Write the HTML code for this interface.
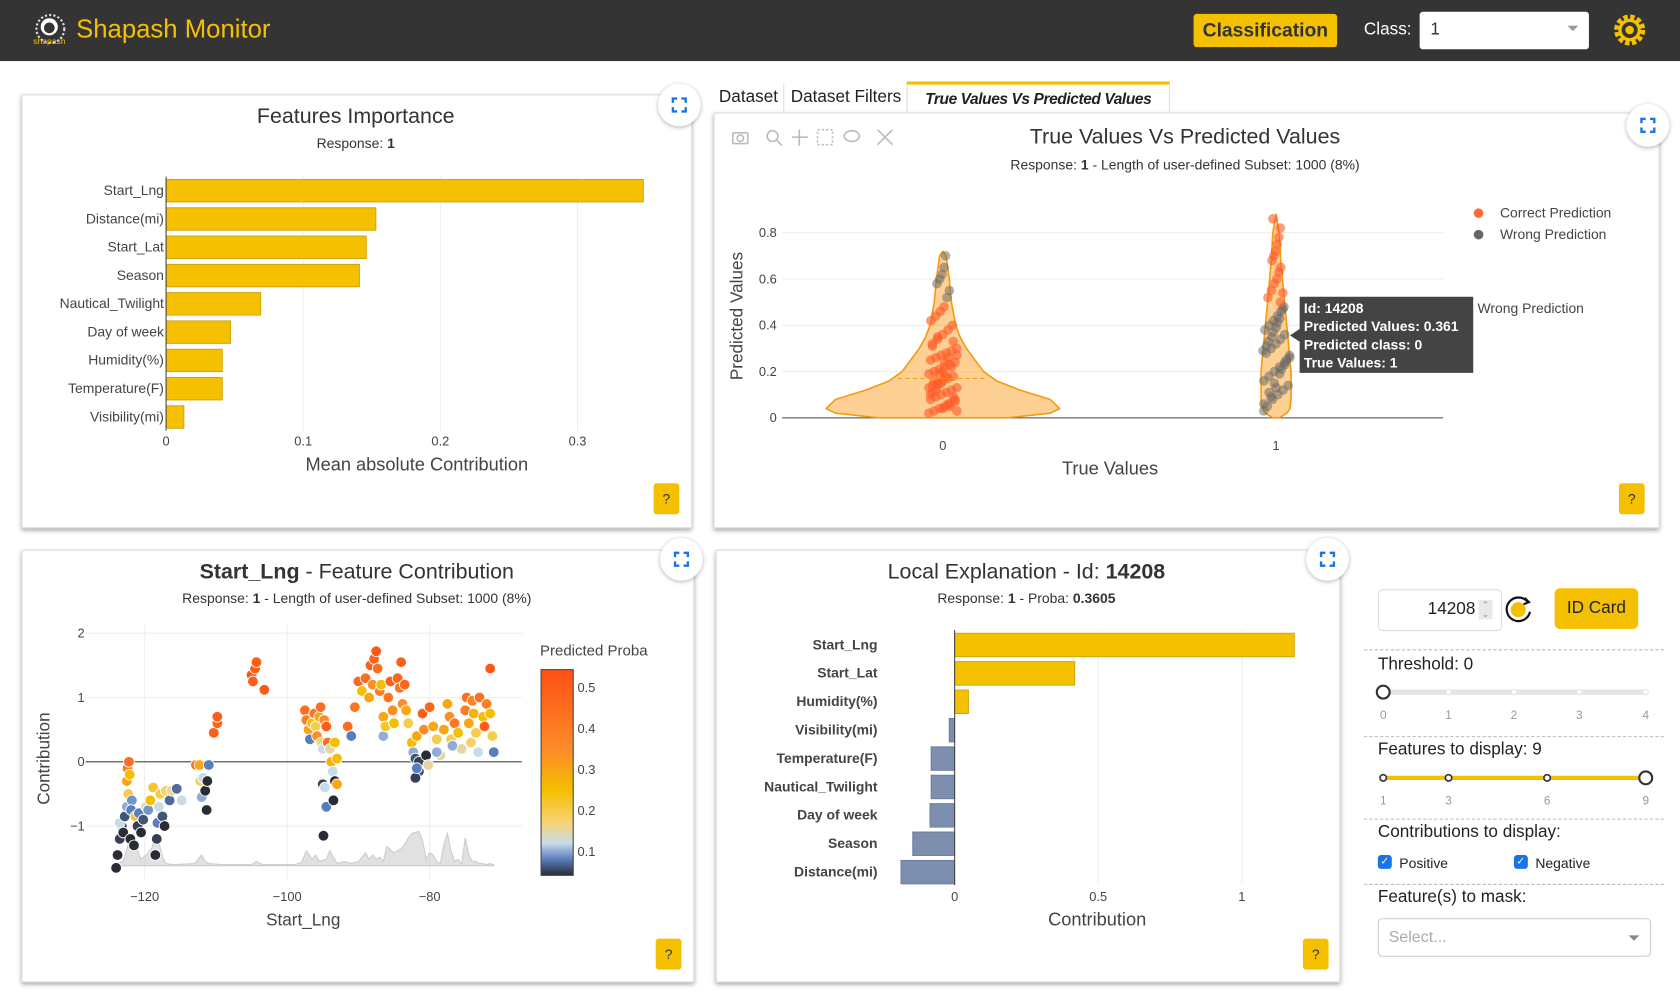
<!DOCTYPE html>
<html><head><meta charset="utf-8">
<style>
html,body{margin:0;padding:0;width:1680px;height:1004px;overflow:hidden;background:#fff;font-family:"Liberation Sans",sans-serif;}
#stage{position:absolute;left:0;top:0;width:1568px;height:937px;transform:scale(1.071429);transform-origin:0 0;}
.abs{position:absolute;}
.card{position:absolute;background:#fff;border:1px solid #ddd;box-shadow:0 2px 4px rgba(0,0,0,.35);}
.expand{position:absolute;width:40px;height:40px;border-radius:50%;background:#fff;box-shadow:0 1px 4px rgba(0,0,0,.3);}
.help{position:absolute;width:24px;height:29px;background:#f5c000;border-radius:3px;font-size:13px;text-align:center;line-height:29px;color:#333;}
.t{position:absolute;white-space:nowrap;}
svg{position:absolute;left:0;top:0;overflow:visible}
.sep{position:absolute;left:1273px;width:280px;border-top:1px dashed #bbb;}
</style></head><body>
<div id="stage">
<!-- header -->
<div class="abs" style="left:0;top:0;width:1568px;height:57px;background:#343434;"></div>
<svg width="1568" height="60"><circle cx="47" cy="27" r="13" fill="none" stroke="#ddd" stroke-width="2" stroke-dasharray="2 2"/><circle cx="46" cy="25" r="8" fill="#fff"/><circle cx="46" cy="26" r="5" fill="#343434"/><text x="31" y="41" font-size="8" fill="#f5c000" font-family="Liberation Sans">shapash</text></svg>
<div class="t" style="left:71px;top:14px;font-size:24px;color:#f5c000;">Shapash Monitor</div>
<div class="abs" style="left:1114px;top:13px;width:134px;height:31px;background:#f5c000;border-radius:3px;font-weight:bold;font-size:18px;line-height:31px;text-align:center;color:#333;">Classification</div>
<div class="t" style="left:1273px;top:19px;font-size:16px;color:#fff;">Class:</div>
<div class="abs" style="left:1325px;top:11px;width:158px;height:35px;background:#fff;border-radius:3px;"><span style="position:absolute;left:10px;top:8px;font-size:16px;color:#333">1</span><span style="position:absolute;right:10px;top:13px;border:5px solid transparent;border-top-color:#999"></span></div>
<svg width="1568" height="60"><circle cx="1521" cy="28" r="12" fill="none" stroke="#f5c000" stroke-width="5" stroke-dasharray="4 2.3"/><circle cx="1521" cy="28" r="9" fill="none" stroke="#f5c000" stroke-width="3"/><circle cx="1521" cy="28" r="4" fill="#f5c000"/></svg>

<!-- Panel 1 -->
<div class="card" style="left:20px;top:88px;width:624px;height:403px;"></div>
<div class="t" style="left:20px;width:624px;text-align:center;top:98px;font-size:20px;color:#333;">Features Importance</div>
<div class="t" style="left:20px;width:624px;text-align:center;top:126px;font-size:13px;color:#333;">Response: <b>1</b></div>
<svg id="fi" width="700" height="500"></svg>
<div class="expand" style="left:614px;top:78px;"></div>
<div class="help" style="left:610px;top:451px;">?</div>

<!-- tabs -->
<div class="t" style="left:671px;top:82px;font-size:16px;color:#222;">Dataset</div>
<div class="abs" style="left:731px;top:78px;height:26px;border-left:1px solid #ddd"></div>
<div class="t" style="left:738px;top:82px;font-size:16px;color:#222;">Dataset Filters</div>
<div class="abs" style="left:846px;top:76px;width:244px;height:28px;border-top:3px solid #f5c000;border-left:1px solid #ddd;border-right:1px solid #ddd;background:#fff;font-style:italic;font-weight:bold;font-size:14.5px;letter-spacing:-0.4px;white-space:nowrap;overflow:hidden;line-height:28px;text-align:center;color:#222;">True Values Vs Predicted Values</div>

<!-- Panel 2 -->
<div class="card" style="left:666px;top:105px;width:881px;height:386px;"></div>
<div class="t" style="left:866px;width:480px;text-align:center;top:117px;font-size:20px;color:#333;">True Values Vs Predicted Values</div>
<div class="t" style="left:806px;width:600px;text-align:center;top:146px;font-size:13px;color:#333;">Response: <b>1</b> - Length of user-defined Subset: 1000 (8%)</div>
<svg width="1568" height="937"><g fill="none" stroke="#bbb" stroke-width="1.5"><rect x="684" y="124" width="14" height="10" rx="1"/><circle cx="691" cy="129" r="3"/><circle cx="721" cy="127" r="5"/><line x1="725" y1="131" x2="730" y2="136"/><path d="M746 121v15M739 128h15"/><rect x="763" y="121" width="14" height="14" stroke-dasharray="2 2"/><ellipse cx="795" cy="127" rx="7" ry="5"/><path d="M819 121l14 14M833 121l-14 14"/></g></svg>
<svg id="tv" width="1568" height="937"></svg>
<div class="expand" style="left:1518px;top:97px;"></div>
<div class="help" style="left:1511px;top:451px;">?</div>

<!-- Panel 3 -->
<div class="card" style="left:20px;top:513px;width:626px;height:402px;"></div>
<div class="t" style="left:20px;width:626px;text-align:center;top:523px;font-size:20px;color:#333;"><b>Start_Lng</b> - Feature Contribution</div>
<div class="t" style="left:20px;width:626px;text-align:center;top:551px;font-size:13px;color:#333;">Response: <b>1</b> - Length of user-defined Subset: 1000 (8%)</div>
<svg id="fc" width="1568" height="937"></svg>
<div class="expand" style="left:616px;top:502px;"></div>
<div class="help" style="left:612px;top:876px;">?</div>

<!-- Panel 4 -->
<div class="card" style="left:668px;top:513px;width:581px;height:402px;"></div>
<div class="t" style="left:668px;width:580px;text-align:center;top:523px;font-size:20px;color:#333;">Local Explanation - Id: <b>14208</b></div>
<div class="t" style="left:668px;width:580px;text-align:center;top:551px;font-size:13px;color:#333;">Response: <b>1</b> - Proba: <b>0.3605</b></div>
<svg id="le" width="1568" height="937"></svg>
<div class="expand" style="left:1219px;top:502px;"></div>
<div class="help" style="left:1216px;top:876px;">?</div>

<!-- sidebar -->
<div class="abs" style="left:1286px;top:550px;width:114px;height:37px;border:1px solid #ddd;border-radius:5px;"><span style="position:absolute;right:24px;top:9px;font-size:16px;color:#222">14208</span><span style="position:absolute;right:8px;top:9px;width:13px;height:18px;background:#e8e8e8;font-size:8px;color:#888;text-align:center;line-height:9px">&#8963;<br>&#8964;</span></div>
<svg width="1568" height="937"><circle cx="1417" cy="569" r="7" fill="#f5c000"/><path d="M1426 562 A11 11 0 1 0 1428 571" fill="none" stroke="#111" stroke-width="2"/><path d="M1423 558l4 4-5 2" fill="none" stroke="#111" stroke-width="2"/></svg>
<div class="abs" style="left:1451px;top:549px;width:78px;height:38px;background:#f5c000;border-radius:5px;font-size:16px;line-height:38px;text-align:center;color:#222;">ID Card</div>
<div class="sep" style="top:606px"></div><div class="sep" style="top:687px"></div><div class="sep" style="top:764px"></div><div class="sep" style="top:825px"></div>
<div class="t" style="left:1286px;top:612px;font-size:16px;color:#222;">Threshold: 0</div>
<svg id="sl" width="1568" height="937"></svg>
<div class="t" style="left:1286px;top:691px;font-size:16px;color:#222;">Features to display: 9</div>
<div class="t" style="left:1286px;top:768px;font-size:16px;color:#222;">Contributions to display:</div>
<div class="abs" style="left:1286px;top:798px;width:13px;height:13px;background:#1a73e8;border-radius:3px;color:#fff;font-size:10px;text-align:center;line-height:13px">&#10003;</div>
<div class="t" style="left:1306px;top:798px;font-size:13px;color:#222;">Positive</div>
<div class="abs" style="left:1413px;top:798px;width:13px;height:13px;background:#1a73e8;border-radius:3px;color:#fff;font-size:10px;text-align:center;line-height:13px">&#10003;</div>
<div class="t" style="left:1433px;top:798px;font-size:13px;color:#222;">Negative</div>
<div class="t" style="left:1286px;top:829px;font-size:16px;color:#222;">Feature(s) to mask:</div>
<div class="abs" style="left:1286px;top:857px;width:253px;height:34px;border:1px solid #ccc;border-radius:4px;"><span style="position:absolute;left:9px;top:8px;font-size:15px;color:#aaa">Select...</span><span style="position:absolute;right:10px;top:15px;border:5px solid transparent;border-top-color:#888"></span></div>
</div>

<script>
const NS='http://www.w3.org/2000/svg';
function mk(p,tag,at,txt){const e=document.createElementNS(NS,tag);for(const k in at)e.setAttribute(k,at[k]);if(txt!==undefined)e.textContent=txt;p.appendChild(e);return e;}

// ---- Features importance data
const fiFeatures=['Start_Lng','Distance(mi)','Start_Lat','Season','Nautical_Twilight','Day of week','Humidity(%)','Temperature(F)','Visibility(mi)'];
const fiValues=[0.348,0.153,0.146,0.141,0.069,0.047,0.041,0.041,0.013];
const fiTicks=[0,0.1,0.2,0.3];
// ---- Local explanation data
const leFeatures=['Start_Lng','Start_Lat','Humidity(%)','Visibility(mi)','Temperature(F)','Nautical_Twilight','Day of week','Season','Distance(mi)'];
const leValues=[1.183,0.418,0.048,-0.019,-0.082,-0.082,-0.086,-0.146,-0.187];
const leTicks=[0,0.5,1];
// ---- Violin data
const tvCategories=[0,1];
const tvYTicks=[0,0.2,0.4,0.6,0.8];
const violinLevels=[0,0.02,0.04,0.08,0.12,0.16,0.2,0.25,0.3,0.35,0.4,0.5,0.6,0.7,0.72,0.8,0.88];
const violinWidth0=[60,100,109,100,72,50,38,30,22,16,12,8,6,3,0,0,0];
const violinWidth1=[3,10,13,14,14,14,14,13,12,11,10,8,6,4,4,3,0];
const class0Preds=[0.02,0.03,0.04,0.05,0.06,0.07,0.08,0.09,0.1,0.11,0.12,0.13,0.14,0.15,0.16,0.17,0.18,0.19,0.2,0.21,0.22,0.23,0.24,0.25,0.26,0.27,0.28,0.29,0.3,0.32,0.34,0.36,0.38,0.4,0.42,0.44,0.46,0.48,0.05,0.08,0.1,0.12,0.15,0.18,0.22,0.27,0.31,0.35,0.04,0.06,0.09,0.13,0.16,0.19,0.24,0.52,0.55,0.58,0.6,0.62,0.65,0.7,0.03,0.11,0.14,0.2,0.26,0.33];
const class1Preds=[0.03,0.05,0.08,0.1,0.12,0.14,0.16,0.18,0.2,0.22,0.24,0.26,0.28,0.3,0.32,0.34,0.36,0.38,0.4,0.42,0.44,0.46,0.48,0.06,0.11,0.15,0.19,0.23,0.27,0.31,0.35,0.39,0.43,0.47,0.52,0.55,0.58,0.6,0.63,0.65,0.68,0.7,0.72,0.75,0.78,0.82,0.86,0.09,0.13,0.21,0.25,0.29,0.33,0.37,0.41,0.5,0.54];
const tooltipLines=['Id: 14208','Predicted Values: 0.361','Predicted class: 0','True Values: 1'];
// ---- Scatter data
const lngVals=[-124,-123.8,-123.5,-123.2,-123.5,-123,-122.8,-122.5,-122.3,-122.5,-122.4,-122.2,-122.1,-121.8,-121.9,-122,-121.5,-121.3,-121,-120.8,-120.5,-120.2,-119.8,-119.5,-119.2,-118.8,-118.5,-118.3,-118.2,-118,-117.8,-117.5,-117.2,-117,-116.5,-116.2,-115.5,-114.8,-112.8,-112.3,-112.2,-112,-111.8,-111.5,-111.3,-111.2,-111,-110.3,-109.8,-109.8,-105,-104.8,-104.5,-104.3,-103.2,-97.5,-97.3,-97,-96.8,-96.5,-96.2,-96,-95.8,-95.5,-95.3,-95.2,-95,-94.8,-94.5,-94.3,-94,-93.8,-93.6,-95,-94.7,-94.5,-94.9,-93.5,-93.3,-93,-93,-93.3,-91.5,-91,-90.5,-90,-89.5,-89,-88.5,-88.3,-88,-87.8,-87.5,-87.3,-87,-86.8,-86.5,-86.5,-86.2,-85.8,-85.5,-85.2,-85,-84.5,-84.2,-84,-83.8,-83.5,-83.3,-83,-82.5,-82.3,-82,-81.8,-81.5,-81.5,-81,-80.8,-80.5,-80.2,-80,-79.5,-79,-78.5,-78,-77.5,-77.2,-77,-76.5,-76,-75.5,-75,-74.8,-74.5,-74.2,-74,-73.8,-73.5,-73.2,-73,-72.5,-72.3,-72,-71.5,-71.2,-71,-71.5,-82,-81.8,-79,-76.8];
const contribVals=[-1.65,-1.45,-1.2,-1.0,-0.95,-1.1,-0.85,-0.7,-0.5,-0.3,-0.1,0.0,-0.2,-0.6,-0.75,-1.2,-1.3,-0.85,-1.0,-0.8,-1.1,-0.9,-0.7,-0.75,-0.6,-0.4,-1.45,-1.2,-0.95,-0.7,-0.5,-0.85,-1.0,-0.45,-0.6,-0.45,-0.42,-0.6,-0.05,-0.05,-0.3,-0.55,-0.25,-0.45,-0.75,-0.3,-0.05,0.45,0.6,0.7,1.35,1.25,1.45,1.55,1.12,0.8,0.65,0.5,0.35,0.6,0.75,0.55,0.4,0.7,0.85,0.3,0.2,0.65,0.55,0.3,0.2,0.0,-0.15,-0.35,-0.4,-0.7,-1.15,-0.6,-0.3,-0.35,0.05,0.3,0.55,0.4,0.85,1.25,1.1,1.3,1.0,1.5,1.2,1.6,1.72,1.45,1.1,1.2,0.7,0.4,0.55,1.0,1.25,0.8,0.6,1.3,1.15,1.55,0.9,1.2,0.8,0.6,0.3,0.15,0.05,0.4,0.0,-0.15,0.75,0.5,0.1,-0.05,0.85,0.55,0.35,0.1,0.5,0.9,0.7,0.35,0.6,0.45,0.2,0.8,1.0,0.6,0.3,0.95,0.75,0.45,0.15,1.0,0.7,0.55,0.9,0.75,0.4,0.15,1.45,-0.25,-0.1,0.15,0.25];
const probaVals=[0.04,0.04,0.05,0.05,0.12,0.04,0.06,0.1,0.2,0.3,0.4,0.45,0.25,0.09,0.08,0.04,0.04,0.22,0.05,0.08,0.04,0.06,0.14,0.09,0.25,0.22,0.04,0.05,0.08,0.12,0.2,0.06,0.04,0.18,0.07,0.16,0.07,0.12,0.45,0.3,0.18,0.1,0.12,0.04,0.04,0.04,0.08,0.5,0.48,0.5,0.52,0.5,0.52,0.5,0.52,0.45,0.4,0.3,0.08,0.25,0.42,0.2,0.35,0.3,0.45,0.18,0.12,0.35,0.5,0.45,0.15,0.28,0.12,0.05,0.12,0.08,0.04,0.04,0.04,0.3,0.25,0.25,0.45,0.08,0.42,0.48,0.25,0.45,0.3,0.5,0.35,0.48,0.52,0.45,0.4,0.25,0.3,0.1,0.22,0.42,0.5,0.35,0.25,0.48,0.42,0.5,0.35,0.48,0.3,0.2,0.25,0.1,0.06,0.3,0.05,0.06,0.5,0.35,0.04,0.15,0.48,0.3,0.2,0.15,0.3,0.3,0.35,0.2,0.42,0.25,0.15,0.4,0.45,0.3,0.18,0.38,0.28,0.2,0.12,0.45,0.25,0.5,0.4,0.25,0.2,0.08,0.52,0.05,0.08,0.1,0.1];
const densityLng=[-124,-123,-122.3,-121.5,-121,-120.5,-119.8,-119,-118.5,-118,-117.5,-117,-116,-113,-112,-111.5,-111,-109,-105,-104.3,-103.5,-99,-98,-97.3,-96.5,-96,-95.5,-94.5,-94,-93.5,-93,-92,-91,-90,-89,-88.5,-88,-87.5,-87,-86.5,-86,-85,-84.5,-84,-83.5,-83,-82.5,-81.5,-81,-80.5,-80,-79.5,-79,-78.5,-78,-77.5,-77,-76.5,-76,-75.5,-75,-74.5,-74,-73.5,-73,-72.5,-72,-71.5,-71];
const densityVals=[2,4,20,30,14,6,10,16,30,22,8,2,1,2,10,4,2,1,1,4,1,1,3,14,6,10,4,6,14,8,2,4,2,4,12,6,10,6,8,4,18,12,14,16,20,26,30,32,24,6,12,10,4,2,20,30,14,4,6,2,26,10,4,4,2,2,1,2,1];
const fcXTicks=[-120,-100,-80];
const fcYTicks=[-1,0,1,2];
const cbTicks=[0.1,0.2,0.3,0.4,0.5];

// ===== Features importance chart
(function(){
 const s=document.getElementById('fi');
 const x=v=>155+v*1280, y=i=>178+i*26.4;
 fiTicks.forEach(t=>{ if(t>0){const g=mk(s,'line',{x1:x(t),x2:x(t),y1:164,y2:402,stroke:'#eee'});
 }
 const l=mk(s,'text',{x:x(t),y:416,'text-anchor':'middle','font-size':12,fill:'#444','font-family':'Liberation Sans'},String(t));
 });
 fiFeatures.forEach((f,i)=>{
  const b=mk(s,'rect',{x:x(0),y:y(i)-10.5,width:x(fiValues[i])-x(0),height:21,fill:'#f5c000',stroke:'#c9a000','stroke-width':0.8});
  
  
  const l=mk(s,'text',{x:153,y:y(i)+4,'text-anchor':'end','font-size':13,fill:'#444','font-family':'Liberation Sans'},f);
  });
 const ax=mk(s,'line',{x1:155,x2:155,y1:165,y2:402,stroke:'#444'});
 const tt=mk(s,'text',{x:389,y:439,'text-anchor':'middle','font-size':17,fill:'#444','font-family':'Liberation Sans'},'Mean absolute Contribution');
 
})();

// ===== Violin chart
(function(){
 const s=document.getElementById('tv');
 const X=c=>880+c*311, Y=v=>390-v*216;
 tvYTicks.forEach(t=>{
  const g=mk(s,'line',{x1:730,x2:1347,y1:Y(t),y2:Y(t),stroke:t===0?'#444':'#eee'});
  
  const l=mk(s,'text',{x:725,y:Y(t)+4,'text-anchor':'end','font-size':12,fill:'#444','font-family':'Liberation Sans'},String(t));
  });
 tvCategories.forEach(c=>{const l=mk(s,'text',{x:X(c),y:420,'text-anchor':'middle','font-size':12,fill:'#444','font-family':'Liberation Sans'},String(c));
  });
 [violinWidth0,violinWidth1].forEach((w,c)=>{
  const cx=X(c);let top=0;w.forEach((v,i)=>{if(v>0)top=i;});
  let d='M'+cx+' '+Y(violinLevels[0]);
  for(let i=0;i<=Math.min(top+1,w.length-1);i++)d+=' L'+(cx+w[i])+' '+Y(violinLevels[i]);
  for(let i=Math.min(top+1,w.length-1);i>=0;i--)d+=' L'+(cx-w[i])+' '+Y(violinLevels[i]);
  const p=mk(s,'path',{d:d+'Z',fill:'rgba(253,170,60,0.55)',stroke:'#f59a10','stroke-width':1.5,'stroke-linejoin':'round'});
  
 });
 const hw=(c,v)=>{const w=c?violinWidth1:violinWidth0;for(let i=1;i<violinLevels.length;i++)if(v<=violinLevels[i]){const f=(v-violinLevels[i-1])/(violinLevels[i]-violinLevels[i-1]);return w[i-1]+f*(w[i]-w[i-1]);}return 0;};
 [class0Preds,class1Preds].forEach((arr,c)=>{
  arr.forEach((v,i)=>{
   const off=(((i*37)%17)-8)/8*Math.min(13,Math.max(4,hw(c,v)));
   const correct=c===0?v<0.5:v>=0.5;
   const pt=mk(s,'circle',{cx:X(c)+off,cy:Y(v),r:4.5,fill:correct?'rgba(255,90,40,0.6)':'rgba(100,100,100,0.5)'});
   
  });});
 const m0=mk(s,'line',{x1:X(0)-42,x2:X(0)+42,y1:Y(0.17),y2:Y(0.17),stroke:'#f59a10','stroke-dasharray':'4 3'});
 const yt=mk(s,'text',{x:0,y:0,transform:'translate(693,295) rotate(-90)','text-anchor':'middle','font-size':16,fill:'#444','font-family':'Liberation Sans'},'Predicted Values');
 
 const xt=mk(s,'text',{x:1036,y:443,'text-anchor':'middle','font-size':17,fill:'#444','font-family':'Liberation Sans'},'True Values');
 
 [['Correct Prediction','#ff6a3d'],['Wrong Prediction','#666']].forEach((e,i)=>{
  const g=mk(s,'g',{});
  mk(g,'circle',{cx:1380,cy:199+i*20,r:4.5,fill:e[1]});
  mk(g,'text',{x:1400,y:203+i*20,'font-size':13,fill:'#444','font-family':'Liberation Sans'},e[0]);});
 const tg=mk(s,'g',{});
 mk(tg,'path',{d:'M1213 277h162v71h-162v-29l-9 -6 9 -6z',fill:'#444'});
 tooltipLines.forEach((t,i)=>mk(tg,'text',{x:1217,y:292+i*17,'font-size':13,'font-weight':'bold',fill:'#fff','font-family':'Liberation Sans'},t));
 mk(tg,'text',{x:1379,y:292,'font-size':13,fill:'#444','font-family':'Liberation Sans'},'Wrong Prediction');
})();

// ===== Feature contribution scatter
(function(){
 const s=document.getElementById('fc');
 const X=v=>135+(v+120)*6.65, Y=v=>711-v*60;
 fcXTicks.forEach(t=>{const g=mk(s,'line',{x1:X(t),x2:X(t),y1:583,y2:822,stroke:'#eee'});
  const l=mk(s,'text',{x:X(t),y:841,'text-anchor':'middle','font-size':12,fill:'#444','font-family':'Liberation Sans'},t<0?'\u2212'+(-t):String(t));});
 fcYTicks.forEach(t=>{const g=mk(s,'line',{x1:80,x2:487,y1:Y(t),y2:Y(t),stroke:t===0?'#444':'#eee'});
  const l=mk(s,'text',{x:79,y:Y(t)+4,'text-anchor':'end','font-size':12,fill:'#444','font-family':'Liberation Sans'},t<0?'\u2212'+(-t):String(t));});
 let d='M'+X(densityLng[0])+' 808';densityLng.forEach((v,i)=>{d+=' L'+X(v)+' '+(808-densityVals[i]);});d+=' L'+X(densityLng[densityLng.length-1])+' 808Z';
 const da=mk(s,'path',{d:d,fill:'rgba(200,200,200,0.55)',stroke:'#ccc'});
 const stops=[[0.04,[40,44,52]],[0.08,[90,125,190]],[0.12,[200,220,232]],[0.17,[248,210,120]],[0.25,[245,190,0]],[0.35,[252,140,40]],[0.55,[253,80,20]]];
 const col=p=>{for(let i=1;i<stops.length;i++)if(p<=stops[i][0]){const f=Math.max(0,(p-stops[i-1][0])/(stops[i][0]-stops[i-1][0]));const a=stops[i-1][1],b=stops[i][1];return 'rgb('+a.map((v,k)=>Math.round(v+f*(b[k]-v))).join(',')+')';}return 'rgb(253,80,20)';};
 lngVals.forEach((v,i)=>{const c=mk(s,'circle',{cx:X(v),cy:Y(contribVals[i]),r:5,fill:col(probaVals[i]),stroke:'#fff','stroke-width':0.8});
  });
 const defs=mk(s,'defs',{});const lg=mk(defs,'linearGradient',{id:'cbg',x1:0,y1:1,x2:0,y2:0});
 stops.forEach(st=>mk(lg,'stop',{offset:((st[0]-0.04)/0.51).toFixed(3),'stop-color':'rgb('+st[1].join(',')+')'}));
 const cb=mk(s,'rect',{x:505,y:625,width:30,height:192,fill:'url(#cbg)',stroke:'#444'});
 cbTicks.forEach(t=>{const l=mk(s,'text',{x:539,y:642+(0.5-t)*382.5+4,'font-size':12,fill:'#444','font-family':'Liberation Sans'},String(t));});
 const ct=mk(s,'text',{x:504,y:612,'font-size':14,fill:'#444','font-family':'Liberation Sans'},'Predicted Proba');
 const yt=mk(s,'text',{x:0,y:0,transform:'translate(46,708) rotate(-90)','text-anchor':'middle','font-size':16,fill:'#444','font-family':'Liberation Sans'},'Contribution');
 const xt=mk(s,'text',{x:283,y:864,'text-anchor':'middle','font-size':16,fill:'#444','font-family':'Liberation Sans'},'Start_Lng');
})();

// ===== Local explanation
(function(){
 const s=document.getElementById('le');
 const X=v=>891+v*268, Y=i=>602+i*26.5;
 leTicks.forEach(t=>{if(t>0){const g=mk(s,'line',{x1:X(t),x2:X(t),y1:588,y2:826,stroke:'#eee'});}
  const l=mk(s,'text',{x:X(t),y:841,'text-anchor':'middle','font-size':12,fill:'#444','font-family':'Liberation Sans'},String(t));});
 leFeatures.forEach((f,i)=>{const v=leValues[i];
  const b=mk(s,'rect',{x:Math.min(X(0),X(v)),y:Y(i)-11,width:Math.abs(X(v)-X(0)),height:22,fill:v>=0?'#f5c000':'#7d8eae',stroke:v>=0?'#c9a000':'#6a7a98','stroke-width':0.8});
  
  const l=mk(s,'text',{x:819,y:Y(i)+4,'text-anchor':'end','font-size':13,'font-weight':'bold',fill:'#444','font-family':'Liberation Sans'},f);});
 const ax=mk(s,'line',{x1:891,x2:891,y1:588,y2:826,stroke:'#444'});
 const xt=mk(s,'text',{x:1024,y:864,'text-anchor':'middle','font-size':17,fill:'#444','font-family':'Liberation Sans'},'Contribution');
})();

// ===== Sliders
(function(){
 const s=document.getElementById('sl');
 const thMarks=['0','1','2','3','4'], featMarks=['1','3','6','9'];
 const thPos=[1291,1352,1413,1474,1536], featPos=[1291,1352,1444,1536];
 mk(s,'line',{x1:1291,x2:1536,y1:646,y2:646,stroke:'#e5e5e5','stroke-width':5,'stroke-linecap':'round'});
 thMarks.forEach((m,i)=>{mk(s,'circle',{cx:thPos[i],cy:646,r:2.5,fill:'#fff',stroke:'#e5e5e5'});mk(s,'text',{x:thPos[i],y:671,'text-anchor':'middle','font-size':11,fill:'#999','font-family':'Liberation Sans'},m);});
 const h1=mk(s,'circle',{cx:1291,cy:646,r:6,fill:'#fff',stroke:'#333','stroke-width':2});
 mk(s,'line',{x1:1291,x2:1536,y1:726,y2:726,stroke:'#f5c000','stroke-width':4});
 featMarks.forEach((m,i)=>{mk(s,'circle',{cx:featPos[i],cy:726,r:3,fill:'#fff',stroke:'#333','stroke-width':1.5});mk(s,'text',{x:featPos[i],y:751,'text-anchor':'middle','font-size':11,fill:'#999','font-family':'Liberation Sans'},m);});
 const h2=mk(s,'circle',{cx:1536,cy:726,r:6,fill:'#fff',stroke:'#333','stroke-width':2});
})();

// expand icons
document.querySelectorAll('.expand').forEach(e=>{e.innerHTML='<svg width="40" height="40" style="position:absolute;left:0;top:0"><path d="M14 18v-4h4M22 14h4v4M26 22v4h-4M18 26h-4v-4" fill="none" stroke="#1a73e8" stroke-width="2.2"/></svg>';});
</script>
</body></html>
